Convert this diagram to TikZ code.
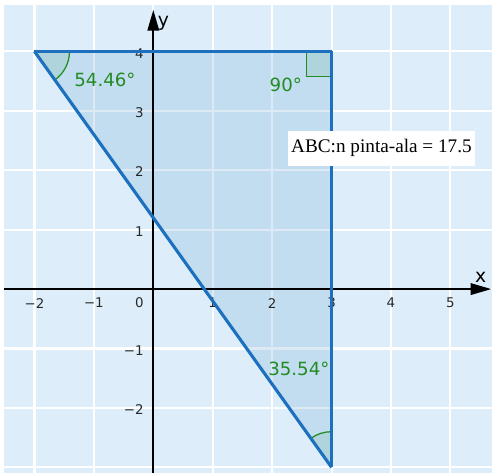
\documentclass[tikz,border=0pt]{standalone}
\usepackage{fontspec}
\setmainfont{DejaVu Sans}
\newfontfamily\boxfont{Liberation Serif}
\usetikzlibrary{arrows.meta,calc}
\definecolor{bgblue}{RGB}{221,238,250}
\definecolor{trifill}{RGB}{121,174,214}
\definecolor{edgeblue}{RGB}{28,112,189}
\definecolor{anggreen}{RGB}{34,139,34}
\definecolor{angfill}{RGB}{176,212,220}
\definecolor{ticktext}{RGB}{40,40,40}
\tikzset{
  gridline/.style={white, line width=1pt},
  axisline/.style={black, line width=1pt, -{Triangle[length=10pt,width=5.5pt]}},
  ticklabel/.style={text=ticktext, font=\fontsize{6.4}{7}\selectfont, inner sep=0pt},
  anglabel/.style={text=anggreen, font=\fontsize{8.7}{10}\selectfont, inner sep=0pt},
  axislabel/.style={text=black, font=\fontsize{9}{10}\selectfont, inner sep=0pt},
  edge/.style={edgeblue, line width=1.5pt, line join=round},
  angmark/.style={fill=angfill},
  angline/.style={anggreen, line width=0.6pt},
}
\begin{document}
\begin{tikzpicture}[x=1cm,y=1cm]
\useasboundingbox (-2.58,-3.10) rectangle (5.70,4.865);
\fill[bgblue] (-2.513,-3.10) rectangle (5.70,4.78);
\foreach \x in {-2,...,5} \draw[gridline] (\x,-3.10) -- (\x,4.78);
\foreach \y in {-3,...,4} \draw[gridline] (-2.513,\y) -- (5.70,\y);
\coordinate (A) at (-2,4);
\coordinate (B) at (3,4);
\coordinate (C) at (3,-3);
\fill[trifill, opacity=0.25] (A) -- (B) -- (C) -- cycle;
% axes
\coordinate (xs) at (-2.513,0);
\coordinate (xe) at (5.69,0);
\coordinate (ys) at (0,-3.10);
\coordinate (ye) at (0,4.70);
\draw[axisline] (xs) -- (xe);
\draw[axisline] (ys) -- (ye);
\node[axislabel] (xl) at (5.51,0.19) {x};
\node[axislabel] (yl) at (0.17,4.47) {y};
% tick labels
\foreach \x/\t in {-2/−2,-1/−1,1/1,2/2,3/3,4/4,5/5}
  \node[ticklabel] (tx\x) at (\x,-0.236) {\t};
\node[ticklabel, anchor=east] (t0) at (-0.157,-0.236) {0};
\foreach \y/\t in {-2/−2,-1/−1,1/1,2/2,3/3,4/4}
  \node[ticklabel, anchor=east] (ty\y) at (-0.157,\y-0.03) {\t};
% angle markers
\fill[angmark] (A) -- ++(-54.46:0.59) arc[start angle=-54.46, end angle=0, radius=0.59] -- cycle;
\draw[angline] ($(A)+(-54.46:0.59)$) arc[start angle=-54.46, end angle=0, radius=0.59];
\fill[angmark] (B) rectangle ++(-0.42,-0.42);
\draw[angline] (2.58,4) -- (2.58,3.58) -- (3,3.58);
\fill[angmark] (C) -- ++(90:0.6) arc[start angle=90, end angle=125.54, radius=0.6] -- cycle;
\draw[angline] (3,-2.4) arc[start angle=90, end angle=125.54, radius=0.6];
% triangle edges
\draw[edge] (A) -- (B);
\draw[edge] (B) -- (C);
\draw[edge] (C) -- (A);
% angle labels
\node[anglabel] (la) at (-0.813,3.52) {54.46°};
\node[anglabel] (lb) at (2.23,3.43) {90°};
\node[anglabel] (lc) at (2.45,-1.35) {35.54°};
% area box
\node[fill=white, minimum width=3.15cm, minimum height=0.584cm, inner sep=0pt,
      font=\boxfont\fontsize{9.2}{11}\selectfont] (area) at (3.84,2.37) {ABC:n pinta-ala = 17.5};
\end{tikzpicture}
\end{document}
